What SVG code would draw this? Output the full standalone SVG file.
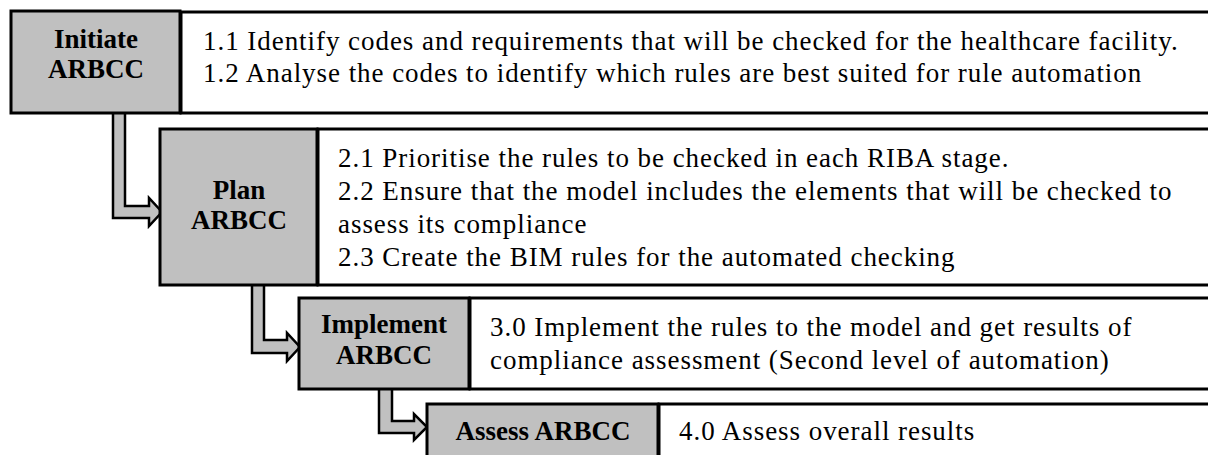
<svg xmlns="http://www.w3.org/2000/svg" width="1208" height="455" viewBox="0 0 1208 455">
  <style>
    .stage { fill: #c0c0c0; stroke: #000; stroke-width: 3; }
    .desc { fill: #fff; stroke: #000; stroke-width: 3; }
    .flow { fill: #c0c0c0; stroke: #000; stroke-width: 2.5; stroke-linejoin: miter; }
    .label { font-family: "Liberation Serif", "Times New Roman", serif; font-weight: bold; font-size: 27px; fill: #000; text-anchor: middle; }
    .body { font-family: "Liberation Serif", "Times New Roman", serif; font-size: 27px; letter-spacing: 0.95px; fill: #000; }
  </style>
  <rect width="1208" height="455" fill="#fff"/>

  <!-- step connectors -->
  <g id="connectors">
    <polygon class="flow" points="113,112 125,112 125,206 149,206 149,198 162,212 149,226 149,218 113,218"/>
    <polygon class="flow" points="252,284 264,284 264,340 287,340 287,333 300,347 287,361 287,353 252,353"/>
    <polygon class="flow" points="379,388 392,388 392,421 414,421 414,414 427,427 414,440 414,433 379,433"/>
  </g>

  <g id="initiate">
    <rect class="desc" x="181" y="12" width="1040" height="101"/>
    <rect class="stage" x="11" y="11" width="169" height="102"/>
    <text class="label" x="96" y="48">Initiate</text>
    <text class="label" x="96" y="78">ARBCC</text>
    <text class="body" x="203" y="50">1.1 Identify codes and requirements that will be checked for the healthcare facility.</text>
    <text class="body" x="203" y="82">1.2 Analyse the codes to identify which rules are best suited for rule automation</text>
  </g>

  <g id="plan">
    <rect class="desc" x="318" y="129" width="900" height="156"/>
    <rect class="stage" x="160" y="129" width="157" height="156"/>
    <text class="label" x="239" y="199">Plan</text>
    <text class="label" x="239" y="229">ARBCC</text>
    <text class="body" x="338" y="167">2.1 Prioritise the rules to be checked in each RIBA stage.</text>
    <text class="body" x="338" y="200">2.2 Ensure that the model includes the elements that will be checked to</text>
    <text class="body" x="338" y="233">assess its compliance</text>
    <text class="body" x="338" y="266">2.3 Create the BIM rules for the automated checking</text>
  </g>

  <g id="implement">
    <rect class="desc" x="470" y="298" width="760" height="91"/>
    <rect class="stage" x="299" y="298" width="170" height="91"/>
    <text class="label" x="384" y="333">Implement</text>
    <text class="label" x="384" y="364">ARBCC</text>
    <text class="body" x="490" y="336">3.0 Implement the rules to the model and get results of</text>
    <text class="body" x="490" y="369">compliance assessment (Second level of automation)</text>
  </g>

  <g id="assess">
    <rect class="desc" x="659" y="404" width="600" height="70"/>
    <rect class="stage" x="427" y="404" width="231" height="70"/>
    <text class="label" x="543" y="440">Assess ARBCC</text>
    <text class="body" x="679" y="440">4.0 Assess overall results</text>
  </g>
</svg>
